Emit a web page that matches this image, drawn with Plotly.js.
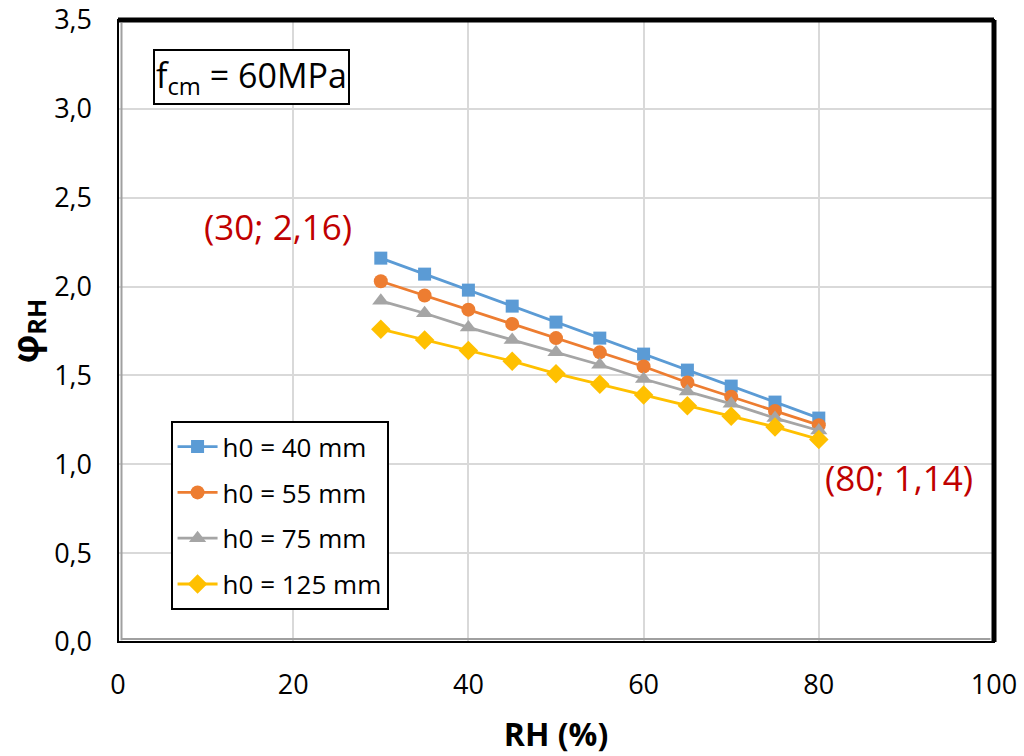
<!DOCTYPE html>
<html>
<head>
<meta charset="utf-8">
<script src="https://cdn.plot.ly/plotly-3.0.1.min.js"></script>
<style>html,body{margin:0;padding:0;background:#fff;}#chart{width:1024px;height:756px;}</style>
</head>
<body>
<div id="chart"></div>
<script>
const rh = [30, 35, 40, 45, 50, 55, 60, 65, 70, 75, 80];
const h40 = [2.16, 2.07, 1.98, 1.89, 1.80, 1.71, 1.62, 1.53, 1.44, 1.35, 1.26];
const h55 = [2.03, 1.95, 1.87, 1.79, 1.71, 1.63, 1.55, 1.46, 1.38, 1.30, 1.22];
const h75 = [1.92, 1.85, 1.77, 1.70, 1.63, 1.56, 1.48, 1.41, 1.34, 1.26, 1.19];
const h125 = [1.76, 1.70, 1.64, 1.58, 1.51, 1.45, 1.39, 1.33, 1.27, 1.21, 1.14];
const seriesNames = ["h0 = 40 mm", "h0 = 55 mm", "h0 = 75 mm", "h0 = 125 mm"];
const xTicks = [0, 20, 40, 60, 80, 100];
const yTicks = [0, 0.5, 1.0, 1.5, 2.0, 2.5, 3.0, 3.5];

const colors = ["#5b9bd5", "#ed7d31", "#a5a5a5", "#ffc000"];
const symbols = ["square", "circle", "triangle-up", "diamond"];
const sizes = [13, 14, 15, 15];
const ys = [h40, h55, h75, h125];

const FONT = "Open Sans, Liberation Sans, sans-serif";

const traces = ys.map((y, i) => ({
  x: rh, y: y, type: "scatter", mode: "lines+markers",
  name: seriesNames[i], legendgroup: "g" + i,
  line: {color: colors[i], width: 2.8},
  marker: {color: colors[i], symbol: symbols[i], size: sizes[i]}
}));

const layout = {
  width: 1024, height: 756,
  margin: {l: 118, r: 30, t: 20, b: 114},
  paper_bgcolor: "#fff", plot_bgcolor: "#fff",
  separators: ",.",
  font: {family: FONT, color: "#000", size: 24},
  showlegend: true,
  legend: {
    x: 0.06, y: 0.355, xanchor: "left", yanchor: "top",
    bordercolor: "#000", borderwidth: 2, bgcolor: "#fff",
    font: {family: FONT, size: 26, color: "#000"},
    tracegroupgap: 9, itemwidth: 40
  },
  xaxis: {
    range: [0, 100], tickvals: xTicks, ticktext: xTicks.map(String),
    showgrid: true, gridcolor: "#d9d9d9", gridwidth: 2,
    zeroline: false, showline: false, ticks: "",
    ticklabelstandoff: 24,
    tickfont: {family: FONT, size: 27, color: "#000"},
    title: {text: "<b>RH (%)</b>", font: {family: FONT, size: 32, color: "#000"}, standoff: 22}
  },
  yaxis: {
    range: [0, 3.5], tickvals: yTicks, tickformat: ".1f",
    showgrid: true, gridcolor: "#d9d9d9", gridwidth: 2,
    zeroline: false, showline: false, ticks: "",
    ticklabelstandoff: 25,
    tickfont: {family: FONT, size: 27, color: "#000"},
    title: {text: "<b>φ<sub>RH</sub></b>", font: {family: FONT, size: 36, color: "#000"}, standoff: 4}
  },
  shapes: [
    {type: "rect", xref: "paper", yref: "paper", x0: 0, x1: 1, y0: 0, y1: 1, line: {color: "#000", width: 2}},
    {type: "line", xref: "paper", yref: "paper", x0: 0, x1: 1, y0: 1, y1: 1, line: {color: "#000", width: 5}},
    {type: "line", xref: "paper", yref: "paper", x0: 1, x1: 1, y0: 0, y1: 1, line: {color: "#000", width: 5}},
    {type: "line", xref: "paper", yref: "paper", x0: 0.004, x1: 0.004, y0: 0.003, y1: 0.995, line: {color: "#a0a0a0", width: 2}},
    {type: "line", xref: "paper", yref: "paper", x0: 0.004, x1: 0.996, y0: 0.005, y1: 0.005, line: {color: "#a0a0a0", width: 2}}
  ],
  annotations: [
    {xref: "paper", yref: "paper", x: 0.04, y: 0.953, xanchor: "left", yanchor: "top",
     text: "f<sub>cm</sub> = 60MPa", showarrow: false,
     font: {family: FONT, size: 34, color: "#000"},
     bordercolor: "#000", borderwidth: 2, borderpad: 1, bgcolor: "#fff"},
    {xref: "x", yref: "y", x: 30, y: 2.16, xshift: -103, yshift: 32, text: "(30; 2,16)", showarrow: false,
     font: {family: FONT, size: 35, color: "#c00000"}},
    {xref: "x", yref: "y", x: 80, y: 1.14, xshift: 80, yshift: -38, text: "(80; 1,14)", showarrow: false,
     font: {family: FONT, size: 35, color: "#c00000"}}
  ]
};

Plotly.newPlot("chart", traces, layout, {displayModeBar: false, staticPlot: true});
</script>
</body>
</html>
